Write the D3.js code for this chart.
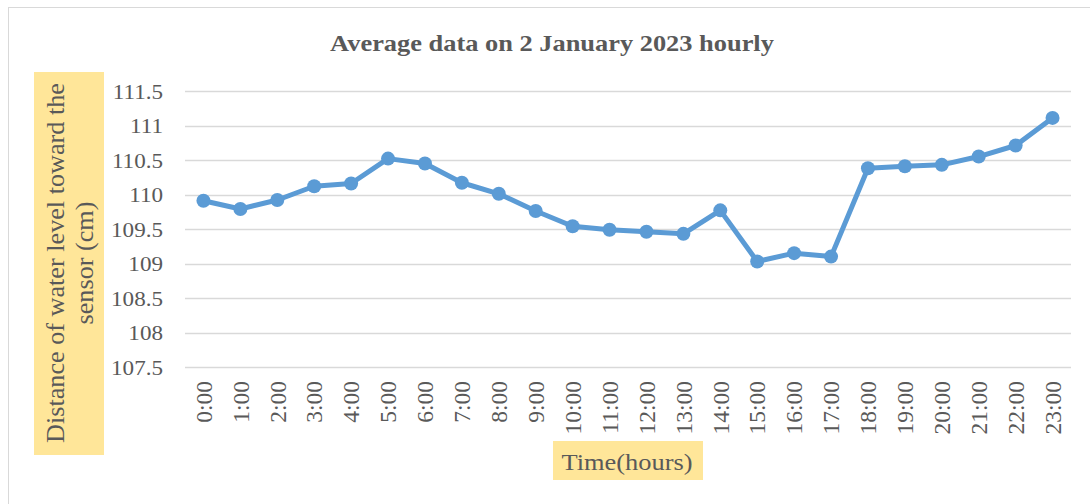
<!doctype html>
<html>
  <head>
    <meta charset="utf-8">
    <title>Average data on 2 January 2023 hourly</title>
    <script src="https://cdnjs.cloudflare.com/ajax/libs/d3/7.8.5/d3.min.js"></script>
    <style>
      body { margin: 0; background: #fff; }
      text { font-family: "Liberation Serif", "Times New Roman", serif; fill: #595959; }
    </style>
  </head>
  <body>
    <div id="root"></div>
    <script>
      // data
      let hours = ['0:00','1:00','2:00','3:00','4:00','5:00','6:00','7:00','8:00','9:00','10:00','11:00',
                   '12:00','13:00','14:00','15:00','16:00','17:00','18:00','19:00','20:00','21:00','22:00','23:00'];
      let distance = [109.91,109.79,109.92,110.12,110.16,110.52,110.45,110.17,110.01,109.76,109.54,109.49,
                      109.46,109.43,109.77,109.03,109.15,109.10,110.38,110.41,110.43,110.55,110.71,111.11];
      let yTicks = [107.5,108,108.5,109,109.5,110,110.5,111,111.5];

      let width = 1090, height = 504,
        margin = {top: 91, right: 19, bottom: 137, left: 185},
        stretch = 1.1; // the reference text looks a bit wider than Times

      let svg = d3.select('#root')
        .append('svg')
        .attr('width', width)
        .attr('height', height);

      // chart area border
      svg.append('rect')
        .attr('x', 8.5).attr('y', 7.5)
        .attr('width', 1090).attr('height', 510)
        .attr('fill', 'none')
        .attr('stroke', '#d9d9d9');

      let xScale = d3.scaleBand()
        .domain(hours)
        .range([margin.left, width - margin.right]);

      let yScale = d3.scaleLinear()
        .domain([107.5, 111.5])
        .range([height - margin.bottom, margin.top]);

      // gridlines
      svg.append('g')
        .selectAll('line')
        .data(yTicks)
        .enter()
        .append('line')
        .attr('x1', margin.left)
        .attr('x2', width - margin.right)
        .attr('y1', d => Math.round(yScale(d)) + 0.5)
        .attr('y2', d => Math.round(yScale(d)) + 0.5)
        .attr('stroke', '#d9d9d9')
        .attr('stroke-width', 1.5);

      // y axis labels
      let yAxis = svg.append('g')
        .attr('transform', 'translate(' + [163, 0] + ')')
        .call(d3.axisLeft(yScale).tickValues(yTicks).tickSize(0).tickPadding(0).tickFormat(d => d));
      yAxis.select('.domain').remove();
      yAxis.selectAll('text')
        .attr('font-size', 21)
        .attr('x', 0)
        .attr('dy', '0.35em')
        .attr('transform', 'scale(' + stretch + ',1)')
        .style('font-family', '"Liberation Serif", serif')
        .attr('fill', '#595959');

      // x axis labels (rotated)
      let xAxis = svg.append('g')
        .attr('transform', 'translate(' + [0, 381] + ')')
        .call(d3.axisBottom(xScale).tickSize(0).tickPadding(0));
      xAxis.select('.domain').remove();
      xAxis.selectAll('text')
        .attr('font-size', 23.5)
        .attr('transform', 'rotate(-90)')
        .attr('text-anchor', 'end')
        .attr('x', 0)
        .attr('y', 0)
        .attr('dy', '0.35em')
        .style('font-family', '"Liberation Serif", serif')
        .attr('fill', '#595959');

      // line
      let line = d3.line()
        .x((d, i) => xScale(hours[i]) + xScale.bandwidth() / 2)
        .y(d => yScale(d));

      svg.append('path')
        .datum(distance)
        .attr('d', line)
        .attr('fill', 'none')
        .attr('stroke', '#5b9bd5')
        .attr('stroke-width', 5)
        .attr('stroke-linejoin', 'round');

      svg.append('g')
        .selectAll('circle')
        .data(distance)
        .enter()
        .append('circle')
        .attr('cx', (d, i) => xScale(hours[i]) + xScale.bandwidth() / 2)
        .attr('cy', d => yScale(d))
        .attr('r', 7)
        .attr('fill', '#5b9bd5');

      // title
      svg.append('text')
        .attr('transform', 'translate(' + [552, 51] + ') scale(' + stretch + ',1)')
        .attr('text-anchor', 'middle')
        .attr('font-size', 24)
        .attr('font-weight', 'bold')
        .text('Average data on 2 January 2023 hourly');

      // y axis title box
      svg.append('rect')
        .attr('x', 34).attr('y', 72)
        .attr('width', 70).attr('height', 383)
        .attr('fill', '#ffe699');
      let yTitle = svg.append('text')
        .attr('transform', 'rotate(-90)')
        .attr('text-anchor', 'middle')
        .attr('font-size', 26.2);
      yTitle.append('tspan').attr('x', -263).attr('y', 64).text('Distance of water level toward the');
      yTitle.append('tspan').attr('x', -263).attr('y', 93).text('sensor (cm)');

      // x axis title box
      svg.append('rect')
        .attr('x', 553).attr('y', 441)
        .attr('width', 150).attr('height', 39)
        .attr('fill', '#ffe699');
      svg.append('text')
        .attr('transform', 'translate(' + [627, 470] + ') scale(' + stretch + ',1)')
        .attr('text-anchor', 'middle')
        .attr('font-size', 24)
        .text('Time(hours)');
    </script>
  </body>
</html>
